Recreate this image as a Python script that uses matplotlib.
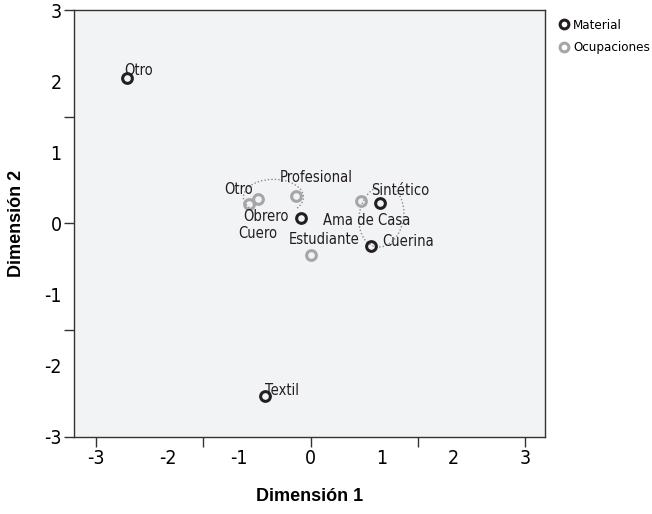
import matplotlib
matplotlib.use('Agg')
import matplotlib.pyplot as plt
from matplotlib.patches import Arc

plt.rcParams['axes.unicode_minus'] = False
plt.rcParams['font.stretch'] = 'condensed'
cond = ['DejaVu Sans']

# datos (coordenadas en las dimensiones)
mat_names = ['Otro', 'Textil', 'Cuero', 'Sintético', 'Cuerina']
mat_x = [-2.57, -0.64, -0.13, 0.97, 0.85]
mat_y = [2.05, -2.42, 0.07, 0.29, -0.32]

ocu_names = ['Otro', 'Obrero', 'Profesional', 'Ama de Casa', 'Estudiante']
ocu_x = [-0.86, -0.73, -0.20, 0.71, 0.00]
ocu_y = [0.28, 0.35, 0.39, 0.31, -0.44]

tick_vals = [-3, -2, -1, 0, 1, 2, 3]

# desplazamiento de etiquetas (pt) y alineacion
mat_off = [(-2, 5, 'left'), (0, 4, 'left'), (-17, -10.5, 'right'), (-6, 9, 'left'), (8, 3.5, 'left')]
ocu_off = [(3, 10, 'right'), (22, -13, 'right'), (-12, 13, 'left'), (3.5, -14, 'center'), (10, 11, 'center')]

black = '#231f20'
gray = '#a6a6a6'

fig = plt.figure(figsize=(6.52, 5.14), dpi=100)
ax = fig.add_axes([0.1135, 0.150, 0.7225, 0.8305])
ax.set_facecolor('#f2f3f5')

ax.plot(mat_x, mat_y, 'o', ms=7, mfc='none', mec=black, mew=2.2, label='Material', zorder=3)
ax.plot(ocu_x, ocu_y, 'o', ms=7, mfc='none', mec=gray, mew=2.2, label='Ocupaciones', zorder=3)

for n, x, y, (dx, dy, ha) in zip(mat_names, mat_x, mat_y, mat_off):
    ax.annotate(n, (x, y), xytext=(dx, dy), textcoords='offset points', ha=ha, va='center',
                fontsize=10.5, family=cond, fontstretch='condensed', color=black)
for n, x, y, (dx, dy, ha) in zip(ocu_names, ocu_x, ocu_y, ocu_off):
    ax.annotate(n, (x, y), xytext=(dx, dy), textcoords='offset points', ha=ha, va='center',
                fontsize=10.5, family=cond, fontstretch='condensed', color=black)

# lineas punteadas que agrupan
ax.add_patch(Arc((-0.52, 0.37), 0.84, 0.50, theta1=-25, theta2=205,
                 color='#8c8c8c', lw=1, ls=(0, (1, 1.5))))
ax.add_patch(Arc((0.99, 0.10), 0.62, 0.87, angle=-10, theta1=110, theta2=70,
                 color='#8c8c8c', lw=1, ls=(0, (1, 1.5))))

ax.set_xlim(-3.31, 3.28)
ax.set_ylim(-3, 3)
ax.xaxis.remove_overlapping_locs = False
ax.yaxis.remove_overlapping_locs = False
ax.set_xticks(tick_vals)
ax.set_yticks(tick_vals)
ax.set_xticks([-3, -1.5, 0, 1.5, 3], minor=True)
ax.set_yticks([-3, -1.5, 0, 1.5, 3], minor=True)
ax.tick_params(which='major', length=0, pad=9, labelsize=14)
ax.tick_params(which='minor', length=7, width=1, color='#333333')
for lab in ax.get_xticklabels() + ax.get_yticklabels():
    lab.set_family(cond)
    lab.set_fontstretch('condensed')
for s in ax.spines.values():
    s.set_color('#333333')
    s.set_linewidth(1)

ax.set_xlabel('Dimensión 1', fontsize=13, fontweight='bold', family='Liberation Sans',
              fontstretch='normal', labelpad=14)
ax.set_ylabel('Dimensión 2', fontsize=13, fontweight='bold', family='Liberation Sans',
              fontstretch='normal', labelpad=14)

leg = ax.legend(loc='upper left', bbox_to_anchor=(1.02, 0.985), frameon=False, borderaxespad=0,
                borderpad=0.2, prop={'family': cond, 'size': 9.5, 'stretch': 'condensed'},
                handletextpad=0.2, labelspacing=0.7, handlelength=1.0, markerscale=0.9)

fig.savefig('out.png', dpi=100)
